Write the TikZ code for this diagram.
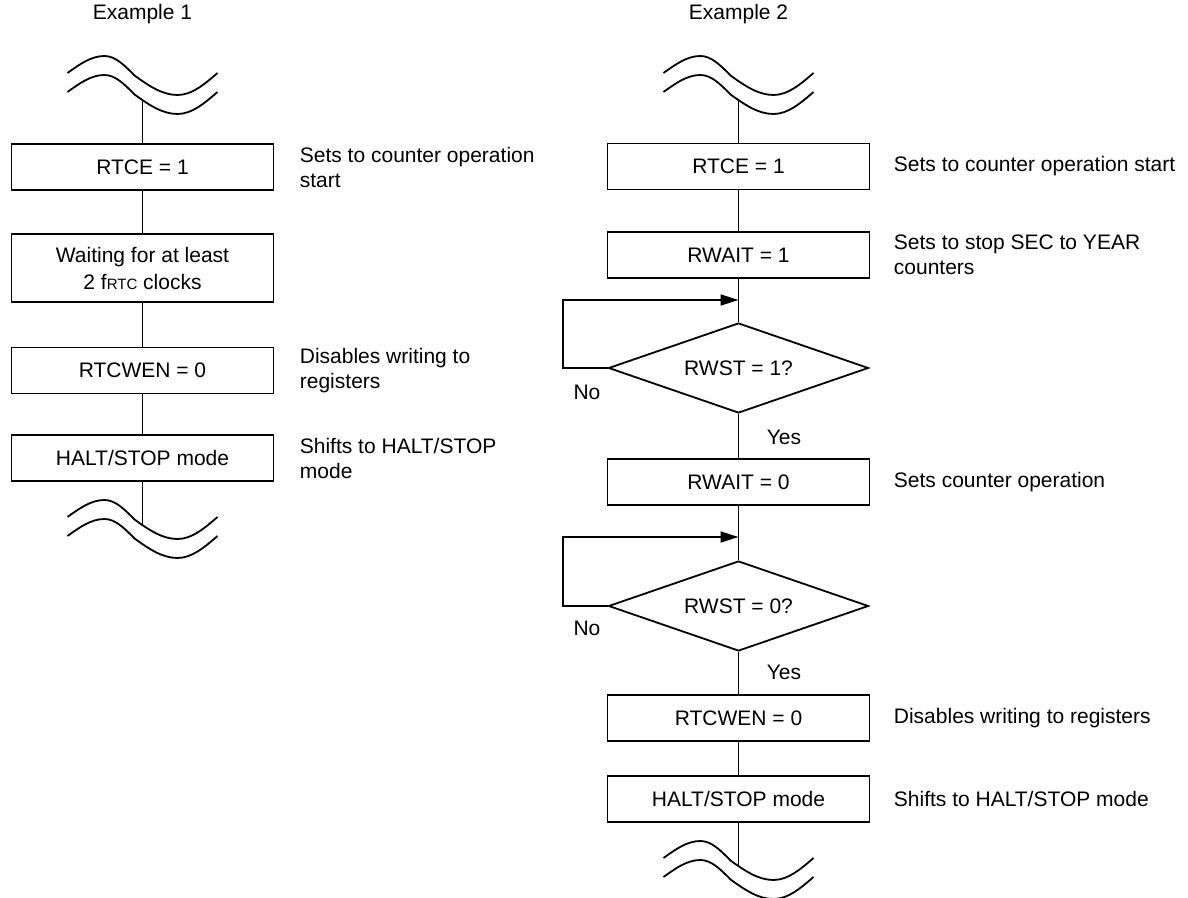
\documentclass[tikz,border=0pt]{standalone}
\usepackage{fontspec}
\setmainfont{Liberation Sans}
\usetikzlibrary{shapes.geometric,arrows.meta}

\begin{document}
\begin{tikzpicture}[x=0.5pt,y=-0.5pt,line width=0.9pt,
 font=\fontsize{10.5}{12.5}\selectfont,
 box/.style={draw,minimum width=131pt,minimum height=23pt,align=center,inner sep=2pt},
 dec/.style={draw,diamond,aspect=2.9,minimum width=130pt,minimum height=45pt,inner sep=0pt},
 note/.style={anchor=west,align=left,inner sep=0pt},
 ar/.style={-{Triangle[length=9pt,width=5.5pt]}}]
\useasboundingbox (0,0) rectangle (1188,898);
% break marks
\foreach \x/\y in {142.5/73,142.5/92,738.5/73,738.5/92,142.5/517,142.5/536,738.5/858,738.5/877}
 \draw (\x-75,\y) sin (\x-38,\y-17) cos (\x-8,\y+2.5) sin (\x+35,\y+22) cos (\x+75,\y);
\coordinate (wl1) at (142.5,100);
\coordinate (wl2) at (142.5,525);
\coordinate (wr1) at (738.5,100);
\coordinate (wr2) at (738.5,866);
% Example 1
\node (ex1) at (142.5,14) {Example 1};
\node[box] (l1) at (142.5,167) {RTCE = 1};
\node[box,minimum height=34pt,font=\fontsize{10.5}{13.5}\selectfont] (l2) at (142.5,268)
 {Waiting for at least\\ 2 f{\fontsize{7.5}{9}\selectfont RTC} clocks};
\node[box] (l3) at (142.5,370.5) {RTCWEN = 0};
\node[box] (l4) at (142.5,458) {HALT/STOP mode};
\node[note] (n1) at (299,167) {Sets to counter operation\\ start};
\node[note] (n3) at (299,370.5) {Disables writing to\\ registers};
\node[note] (n4) at (299,458) {Shifts to HALT/STOP\\ mode};
\draw (wl1) -- (l1); \draw (l1) -- (l2); \draw (l2) -- (l3); \draw (l3) -- (l4); \draw (l4) -- (wl2);
% Example 2
\node (ex2) at (738.5,14) {Example 2};
\node[box] (r1) at (738.5,166.5) {RTCE = 1};
\node[box] (r2) at (738.5,255) {RWAIT = 1};
\node[dec] (d1) at (738.5,368) {RWST = 1?};
\node[box] (r3) at (738.5,482) {RWAIT = 0};
\node[dec] (d2) at (738.5,606) {RWST = 0?};
\node[box] (r4) at (738.5,718) {RTCWEN = 0};
\node[box] (r5) at (738.5,799) {HALT/STOP mode};
\node[note] (m1) at (893,166.5) {Sets to counter operation start};
\node[note] (m2) at (893,255) {Sets to stop SEC to YEAR\\ counters};
\node[note] (m3) at (893,482) {Sets counter operation};
\node[note] (m4) at (893,718) {Disables writing to registers};
\node[note] (m5) at (893,799) {Shifts to HALT/STOP mode};
\node (no1) at (587,392) {No};
\node (yes1) at (784,437) {Yes};
\node (no2) at (587,628) {No};
\node (yes2) at (784,672) {Yes};
\coordinate (j1) at (738.5,300); \coordinate (k1) at (563,368);
\coordinate (j2) at (738.5,537); \coordinate (k2) at (563,606);
\draw (wr1) -- (r1); \draw (r1) -- (r2); \draw (r2) -- (d1); \draw (d1) -- (r3);
\draw (r3) -- (d2); \draw (d2) -- (r4); \draw (r4) -- (r5); \draw (r5) -- (wr2);
\draw[ar] (d1.west) -- (k1) |- (j1);
\draw[ar] (d2.west) -- (k2) |- (j2);
\end{tikzpicture}
\end{document}
